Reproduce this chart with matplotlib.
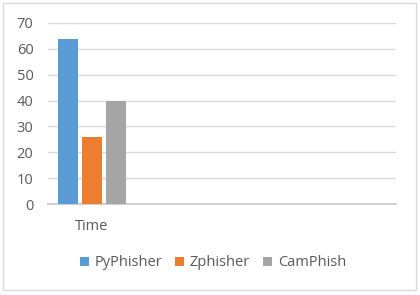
import matplotlib
matplotlib.use("Agg")
import matplotlib.pyplot as plt
from matplotlib.patches import Rectangle
import numpy as np

categories = ["Time", "", "", ""]
series_names = ["PyPhisher", "Zphisher", "CamPhish"]
pyphisher = [64, 0, 0, 0]
zphisher = [26, 0, 0, 0]
camphish = [40, 0, 0, 0]
colors = ["#5B9BD5", "#ED7D31", "#A5A5A5"]
yticks = [0, 10, 20, 30, 40, 50, 60, 70]

plt.rcParams['font.family'] = ['Open Sans', 'DejaVu Sans']

fig = plt.figure(figsize=(4.2, 2.95), dpi=100)
fig.patch.set_facecolor("white")
fig.patches.append(Rectangle((3/420, 5/295), 413/420, 287/295, transform=fig.transFigure,
                             fill=False, edgecolor="#D9D9D9", linewidth=1))

ax = fig.add_axes([48/420, 1 - 204/295, 348/420, (204 - 23)/295])
x = np.arange(len(categories))
w = 20 / 87
step = 24 / 87
vals = [pyphisher, zphisher, camphish]
for i, (v, c, n) in enumerate(zip(vals, colors, series_names)):
    v = np.array(v, dtype=float)
    mask = v > 0
    ax.bar(x[mask] + (i - 1) * step, v[mask], width=w, color=c, label=n, zorder=3)

ax.set_xlim(-0.5, len(categories) - 0.5)
ax.set_ylim(0, 70)
ax.set_yticks(yticks)
ax.set_xticks(x)
ax.set_xticklabels(categories)
ax.yaxis.grid(True, color="#D9D9D9", linewidth=1, zorder=0)
for s in ["top", "right", "left"]:
    ax.spines[s].set_visible(False)
ax.spines["bottom"].set_color("#D0D0D0")
ax.spines["bottom"].set_linewidth(1.5)
ax.tick_params(axis="both", length=0, colors="#595959", labelsize=10.5)
ax.tick_params(axis="y", pad=10.5)
ax.tick_params(axis="x", pad=11)

leg = fig.legend(loc="center", bbox_to_anchor=(213/420, 1 - 263/295), ncol=3, frameon=False,
                 fontsize=10.5, handlelength=0.6, handleheight=0.6, handletextpad=0.4,
                 columnspacing=0.9, labelcolor="#595959")

fig.savefig("out.png", dpi=100, facecolor="white")
